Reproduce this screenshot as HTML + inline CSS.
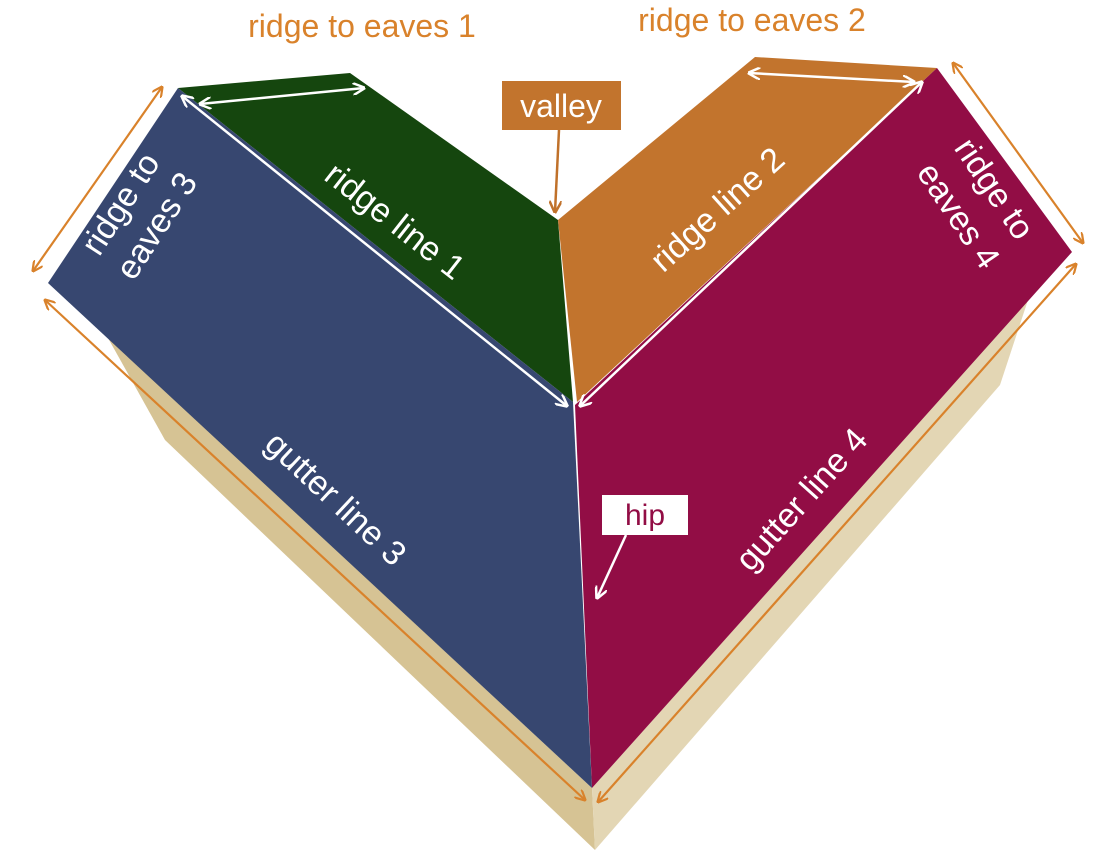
<!DOCTYPE html>
<html><head><meta charset="utf-8"><style>
html,body{margin:0;padding:0;background:#fff;}
svg{display:block;}
text{font-family:"Liberation Sans","DejaVu Sans",sans-serif;}
</style></head><body>
<svg width="1105" height="858" viewBox="0 0 1105 858" xmlns="http://www.w3.org/2000/svg">
<defs>
<marker id="wa" viewBox="0 0 10 10" refX="9" refY="5" markerWidth="5" markerHeight="5" orient="auto-start-reverse"><path d="M0,0 L10,5 L0,10" fill="none" stroke="#fff" stroke-width="2"/></marker>
<marker id="oa" viewBox="0 0 10 10" refX="9" refY="5" markerWidth="5" markerHeight="5" orient="auto-start-reverse"><path d="M0,0 L10,5 L0,10" fill="none" stroke="#d9822b" stroke-width="2"/></marker>
<marker id="ma" viewBox="0 0 10 10" refX="9" refY="5" markerWidth="5" markerHeight="5" orient="auto-start-reverse"><path d="M0,0 L10,5 L0,10" fill="none" stroke="#c0712a" stroke-width="2"/></marker>
</defs>
<polygon points="108,338 165,440 595,850 592,788" fill="#d6c394"/>
<polygon points="1028,300 1000,385 595,850 592,788" fill="#e3d6b4"/>
<polygon points="178,88 350,73 558,220 573,402" fill="#15460e"/>
<polygon points="558,220 755,57 937,68 577,402" fill="#c2742d"/>
<polygon points="178,88 573,402 592,788 48,283" fill="#374770"/>
<polygon points="937,68 1072,252 592,788 575,405" fill="#920d45"/>
<g stroke="#fff" stroke-width="2.5" fill="none">
<line x1="200" y1="104" x2="364" y2="88" marker-start="url(#wa)" marker-end="url(#wa)"/>
<line x1="182" y1="96" x2="567" y2="406" marker-start="url(#wa)" marker-end="url(#wa)"/>
<line x1="580" y1="406" x2="922" y2="82" marker-start="url(#wa)" marker-end="url(#wa)"/>
<line x1="749" y1="73" x2="914" y2="82" marker-start="url(#wa)" marker-end="url(#wa)"/>
<line x1="626" y1="535" x2="597" y2="598" marker-end="url(#wa)"/>
</g>
<g stroke="#d9822b" stroke-width="2.2" fill="none">
<line x1="162" y1="87" x2="33" y2="271" marker-start="url(#oa)" marker-end="url(#oa)"/>
<line x1="45" y1="300" x2="585" y2="800" marker-start="url(#oa)" marker-end="url(#oa)"/>
<line x1="953" y1="63" x2="1083" y2="243" marker-start="url(#oa)" marker-end="url(#oa)"/>
<line x1="1076" y1="264" x2="598" y2="802" marker-start="url(#oa)" marker-end="url(#oa)"/>
</g>
<rect x="502" y="81" width="119" height="49" fill="#c2742d"/>
<text x="561" y="117" font-size="32" fill="#fff" text-anchor="middle">valley</text>
<line x1="559" y1="130" x2="555" y2="212" stroke="#c0712a" stroke-width="2.5" marker-end="url(#ma)"/>
<rect x="602" y="495" width="86" height="40" fill="#fff"/>
<text x="645" y="525" font-size="30" fill="#920d45" text-anchor="middle">hip</text>
<text x="362" y="37" font-size="32" fill="#d9822b" text-anchor="middle">ridge to eaves 1</text>
<text x="752" y="31" font-size="32" fill="#d9822b" text-anchor="middle">ridge to eaves 2</text>
<g fill="#fff" font-size="34" text-anchor="middle">
<text transform="translate(388,230) rotate(38)">ridge line 1</text>
<text transform="translate(725,218) rotate(-42)">ridge line 2</text>
<text transform="translate(328,507) rotate(43)">gutter line 3</text>
<text transform="translate(810,507) rotate(-48)">gutter line 4</text>
<text transform="translate(130,210) rotate(-57)">ridge to</text>
<text transform="translate(166,232) rotate(-57)">eaves 3</text>
<text transform="translate(985,195) rotate(56)">ridge to</text>
<text transform="translate(949,222) rotate(56)">eaves 4</text>
</g>
</svg>
</body></html>
